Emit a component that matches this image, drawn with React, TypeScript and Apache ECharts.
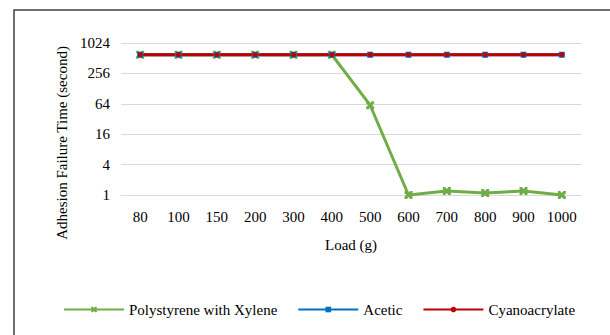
import React, { useEffect, useRef } from "react";
import * as echarts from "echarts";

const categories = ["80", "100", "150", "200", "300", "400", "500", "600", "700", "800", "900", "1000"];
const polystyrene = [600, 600, 600, 600, 600, 600, 60, 1, 1.2, 1.1, 1.2, 1];
const acetic = [600, 600, 600, 600, 600, 600, 600, 600, 600, 600, 600, 600];
const cyano = [600, 600, 600, 600, 600, 600, 600, 600, 600, 600, 600, 600];

const FONT = "Liberation Serif";
const xMark =
  "path://M0,0 L3,0 L5,2.5 L7,0 L10,0 L10,3 L7.5,5 L10,7 L10,10 L7,10 L5,7.5 L3,10 L0,10 L0,7 L2.5,5 L0,3 Z";

export default function App() {
  const ref = useRef<HTMLDivElement>(null);
  useEffect(() => {
    const chart = echarts.init(ref.current!, null, { renderer: "svg" });
    chart.setOption({
      animation: false,
      backgroundColor: "#ffffff",
      textStyle: { fontFamily: FONT },
      grid: { left: 121, right: 29, top: 43, bottom: 140, containLabel: false },
      xAxis: {
        type: "category",
        data: categories,
        boundaryGap: true,
        axisLine: { show: true, lineStyle: { color: "#d9d9d9", width: 1 } },
        axisTick: { show: false },
        axisLabel: { color: "#000", fontSize: 15, fontFamily: FONT, margin: 14, interval: 0 },
        name: "Load (g)",
        nameLocation: "middle",
        nameGap: 42,
        nameTextStyle: { color: "#000", fontSize: 15, fontFamily: FONT },
      },
      yAxis: {
        type: "log",
        logBase: 4,
        min: 1,
        max: 1024,
        axisLine: { show: false },
        axisTick: { show: false },
        splitLine: { show: true, lineStyle: { color: "#d9d9d9", width: 1 } },
        axisLabel: {
          color: "#000",
          fontSize: 15,
          fontFamily: FONT,
          margin: 11,
          formatter: (v: number) => String(Math.round(v)),
        },
      },
      legend: {
        left: 58,
        top: 297,
        itemWidth: 60,
        itemHeight: 7,
        itemGap: 20,
        textStyle: { color: "#000", fontSize: 15, fontFamily: FONT },
        data: ["Polystyrene with Xylene", "Acetic", "Cyanoacrylate"],
      },
      graphic: [
        {
          type: "rect",
          shape: { x: 14, y: 10, width: 700, height: 400 },
          style: { fill: "none", stroke: "#404040", lineWidth: 1.5 },
          silent: true,
        },
        {
          type: "text",
          x: 62,
          y: 143,
          rotation: Math.PI / 2,
          style: {
            text: "Adhesion Failure Time (second)",
            fill: "#000",
            font: `15px ${FONT}`,
            align: "center",
            verticalAlign: "middle",
          },
        },
      ],
      series: [
        {
          name: "Polystyrene with Xylene",
          type: "line",
          data: polystyrene,
          symbol: xMark,
          symbolSize: 8,
          lineStyle: { color: "#70AD47", width: 3 },
          itemStyle: { color: "#70AD47" },
        },
        {
          name: "Acetic",
          type: "line",
          data: acetic,
          symbol: "rect",
          symbolSize: 6,
          lineStyle: { color: "#0070C0", width: 3 },
          itemStyle: { color: "#0070C0" },
        },
        {
          name: "Cyanoacrylate",
          type: "line",
          data: cyano,
          symbol: "circle",
          symbolSize: 5,
          lineStyle: { color: "#C00000", width: 3 },
          itemStyle: { color: "#C00000" },
        },
      ],
    });
    return () => chart.dispose();
  }, []);
  return (
    <div
      ref={ref}
      style={{ position: "fixed", left: 0, top: 0, width: 610, height: 335 }}
    />
  );
}
